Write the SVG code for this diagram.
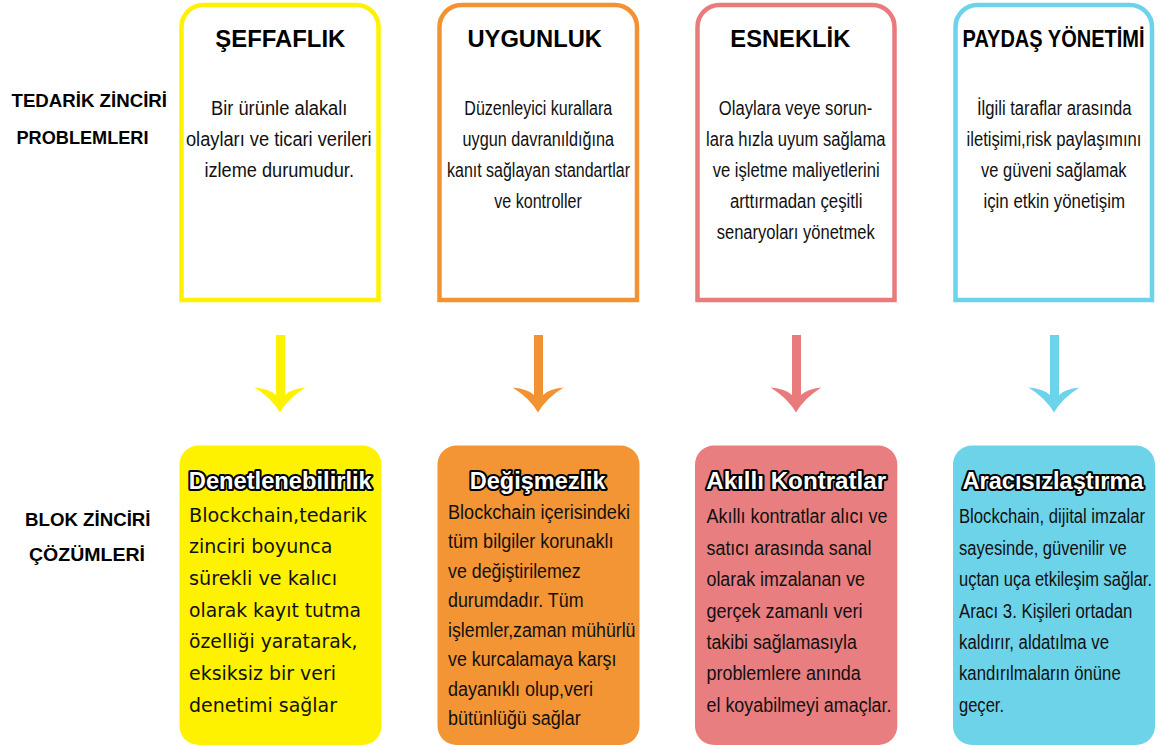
<svg xmlns="http://www.w3.org/2000/svg" width="1162" height="749" viewBox="0 0 1162 749">
<defs>
<style>
.lbl{font-family:"Liberation Sans",Arial,sans-serif;font-weight:bold;font-size:19px;fill:#000}
.ttl{font-family:"Liberation Sans",Arial,sans-serif;font-weight:bold;font-size:23.5px;fill:#000;text-anchor:middle}
.tb{font-family:"Liberation Sans",Arial,sans-serif;font-size:19.5px;fill:#111;text-anchor:middle}
.bt{font-family:"Liberation Sans",Arial,sans-serif;font-weight:bold;font-size:23px;fill:#fff;stroke:#000;stroke-width:4px;stroke-linejoin:round;paint-order:stroke;text-anchor:middle}
.yb{font-family:"DejaVu Sans",Verdana,sans-serif;font-size:19.5px;fill:#111}
.nb{font-family:"Liberation Sans",Arial,sans-serif;font-size:20px;fill:#111}
.frame{fill:#fff;stroke-width:4.5}
</style>
<path id="arr" d="M-26,387.5 Q-10,389 -4.5,395 L-4.5,335 L4.5,335 L4.5,395 Q10,389 25,387.5 Q8,398 -0.5,412.5 Q-9,398 -26,387.5 Z"/>
</defs>
<rect width="1162" height="749" fill="#fff"/>

<g id="left-labels">
<text class="lbl" x="11.5" y="107.3" textLength="155.5" lengthAdjust="spacingAndGlyphs">TEDARİK ZİNCİRİ</text>
<text class="lbl" x="16.5" y="144" textLength="132" lengthAdjust="spacingAndGlyphs">PROBLEMLERI</text>
<text class="lbl" x="25" y="526" textLength="125.5" lengthAdjust="spacingAndGlyphs">BLOK ZİNCİRİ</text>
<text class="lbl" x="29" y="560.5" textLength="116" lengthAdjust="spacingAndGlyphs">ÇÖZÜMLERİ</text>
</g>

<g id="p1">
<path class="frame" stroke="#FFF200" d="M181.5,300 L181.5,27 A22,22 0 0 1 203.5,5 L356.5,5 A22,22 0 0 1 378.5,27 L378.5,300 Z"/>
<text class="ttl" x="280.3" y="46.7" textLength="130" lengthAdjust="spacingAndGlyphs">ŞEFFAFLIK</text>
<text class="tb" x="279.2" y="114.5" textLength="136.5" lengthAdjust="spacingAndGlyphs">Bir ürünle alakalı</text>
<text class="tb" x="278.7" y="145.7" textLength="185.5" lengthAdjust="spacingAndGlyphs">olayları ve ticari verileri</text>
<text class="tb" x="279.2" y="176.9" textLength="149.5" lengthAdjust="spacingAndGlyphs">izleme durumudur.</text>
</g>

<g id="p2">
<path class="frame" stroke="#F39233" d="M439.5,300 L439.5,27 A22,22 0 0 1 461.5,5 L615,5 A22,22 0 0 1 637,27 L637,300 Z"/>
<text class="ttl" x="534.7" y="46.7" textLength="134.5" lengthAdjust="spacingAndGlyphs">UYGUNLUK</text>
<text class="tb" x="538.3" y="114.5" textLength="148" lengthAdjust="spacingAndGlyphs">Düzenleyici kurallara</text>
<text class="tb" x="538.3" y="145.7" textLength="151.5" lengthAdjust="spacingAndGlyphs">uygun davranıldığına</text>
<text class="tb" x="538.5" y="176.9" textLength="183" lengthAdjust="spacingAndGlyphs">kanıt sağlayan standartlar</text>
<text class="tb" x="538" y="208.1" textLength="87.5" lengthAdjust="spacingAndGlyphs">ve kontroller</text>
</g>

<g id="p3">
<path class="frame" stroke="#E97B7D" d="M697.5,300 L697.5,27 A22,22 0 0 1 719.5,5 L872.5,5 A22,22 0 0 1 894.5,27 L894.5,300 Z"/>
<text class="ttl" x="790.3" y="46.7" textLength="120" lengthAdjust="spacingAndGlyphs">ESNEKLİK</text>
<text class="tb" x="795.5" y="114.5" textLength="153.5" lengthAdjust="spacingAndGlyphs">Olaylara veye sorun-</text>
<text class="tb" x="795.8" y="145.7" textLength="179.5" lengthAdjust="spacingAndGlyphs">lara hızla uyum sağlama</text>
<text class="tb" x="796.2" y="176.9" textLength="167" lengthAdjust="spacingAndGlyphs">ve işletme maliyetlerini</text>
<text class="tb" x="796.2" y="208.1" textLength="132.5" lengthAdjust="spacingAndGlyphs">arttırmadan çeşitli</text>
<text class="tb" x="795.7" y="239.3" textLength="158" lengthAdjust="spacingAndGlyphs">senaryoları yönetmek</text>
</g>

<g id="p4">
<path class="frame" stroke="#6DD3EA" d="M955.5,300 L955.5,27 A22,22 0 0 1 977.5,5 L1130,5 A22,22 0 0 1 1152,27 L1152,300 Z"/>
<text class="ttl" x="1053.6" y="46.7" font-size="18.5" textLength="182" lengthAdjust="spacingAndGlyphs">PAYDAŞ YÖNETİMİ</text>
<text class="tb" x="1054.2" y="114.5" textLength="154.5" lengthAdjust="spacingAndGlyphs">İlgili taraflar arasında</text>
<text class="tb" x="1054" y="145.7" textLength="175" lengthAdjust="spacingAndGlyphs">iletişimi,risk paylaşımını</text>
<text class="tb" x="1053.8" y="176.9" textLength="145.5" lengthAdjust="spacingAndGlyphs">ve güveni sağlamak</text>
<text class="tb" x="1054.2" y="208.1" textLength="141.5" lengthAdjust="spacingAndGlyphs">için etkin yönetişim</text>
</g>

<g id="connectors">
<use href="#arr" x="280.5" fill="#FFF200"/>
<use href="#arr" x="538.5" fill="#F39233"/>
<use href="#arr" x="796.5" fill="#E97B7D"/>
<use href="#arr" x="1054.5" fill="#6DD3EA"/>
</g>

<g id="s1">
<rect x="179.5" y="445.5" width="202" height="299.5" rx="19" fill="#FFF200"/>
<text class="bt" x="280.3" y="489" textLength="183" lengthAdjust="spacingAndGlyphs">Denetlenebilirlik</text>
<text class="yb" x="189" y="521.7" textLength="178" lengthAdjust="spacingAndGlyphs">Blockchain,tedarik</text>
<text class="yb" x="189" y="553.3" textLength="143.5" lengthAdjust="spacingAndGlyphs">zinciri boyunca</text>
<text class="yb" x="189" y="585" textLength="148" lengthAdjust="spacingAndGlyphs">sürekli ve kalıcı</text>
<text class="yb" x="189" y="616.7" textLength="172" lengthAdjust="spacingAndGlyphs">olarak kayıt tutma</text>
<text class="yb" x="189" y="648.3" textLength="168.5" lengthAdjust="spacingAndGlyphs">özelliği yaratarak,</text>
<text class="yb" x="189" y="680" textLength="147" lengthAdjust="spacingAndGlyphs">eksiksiz bir veri</text>
<text class="yb" x="189" y="711.7" textLength="148" lengthAdjust="spacingAndGlyphs">denetimi sağlar</text>
</g>

<g id="s2">
<rect x="437.5" y="445.5" width="202" height="299.5" rx="19" fill="#F39535"/>
<text class="bt" x="537.7" y="489" textLength="136" lengthAdjust="spacingAndGlyphs">Değişmezlik</text>
<text class="nb" x="448" y="519" font-size="19.5" textLength="182" lengthAdjust="spacingAndGlyphs">Blockchain içerisindeki</text>
<text class="nb" x="448" y="548.4" font-size="19.5" textLength="165.5" lengthAdjust="spacingAndGlyphs">tüm bilgiler korunaklı</text>
<text class="nb" x="448" y="577.9" font-size="19.5" textLength="132.7" lengthAdjust="spacingAndGlyphs">ve değiştirilemez</text>
<text class="nb" x="448" y="607.3" font-size="19.5" textLength="135.5" lengthAdjust="spacingAndGlyphs">durumdadır. Tüm</text>
<text class="nb" x="448" y="636.7" font-size="19.5" textLength="187.5" lengthAdjust="spacingAndGlyphs">işlemler,zaman mühürlü</text>
<text class="nb" x="448" y="666.2" font-size="19.5" textLength="168.5" lengthAdjust="spacingAndGlyphs">ve kurcalamaya karşı</text>
<text class="nb" x="448" y="695.6" font-size="19.5" textLength="145" lengthAdjust="spacingAndGlyphs">dayanıklı olup,veri</text>
<text class="nb" x="448" y="725" font-size="19.5" textLength="132.7" lengthAdjust="spacingAndGlyphs">bütünlüğü sağlar</text>
</g>

<g id="s3">
<rect x="695" y="445.5" width="202.3" height="299.5" rx="19" fill="#E87E7F"/>
<text class="bt" x="796.2" y="489" textLength="180" lengthAdjust="spacingAndGlyphs">Akıllı Kontratlar</text>
<text class="nb" x="706.5" y="523.3" textLength="181" lengthAdjust="spacingAndGlyphs">Akıllı kontratlar alıcı ve</text>
<text class="nb" x="706.5" y="554.7" textLength="165" lengthAdjust="spacingAndGlyphs">satıcı arasında sanal</text>
<text class="nb" x="706.5" y="586.1" textLength="158.5" lengthAdjust="spacingAndGlyphs">olarak imzalanan ve</text>
<text class="nb" x="706.5" y="617.5" textLength="156" lengthAdjust="spacingAndGlyphs">gerçek zamanlı veri</text>
<text class="nb" x="706.5" y="648.9" textLength="150.3" lengthAdjust="spacingAndGlyphs">takibi sağlamasıyla</text>
<text class="nb" x="706.5" y="680.3" textLength="154.3" lengthAdjust="spacingAndGlyphs">problemlere anında</text>
<text class="nb" x="706.5" y="711.7" textLength="185" lengthAdjust="spacingAndGlyphs">el koyabilmeyi amaçlar.</text>
</g>

<g id="s4">
<rect x="953" y="445.5" width="202" height="299.5" rx="19" fill="#6DD3E9"/>
<text class="bt" x="1053" y="489" textLength="181" lengthAdjust="spacingAndGlyphs">Aracısızlaştırma</text>
<text class="nb" x="959" y="523.3" textLength="186" lengthAdjust="spacingAndGlyphs">Blockchain, dijital imzalar</text>
<text class="nb" x="959" y="554.7" textLength="167.7" lengthAdjust="spacingAndGlyphs">sayesinde, güvenilir ve</text>
<text class="nb" x="959" y="586.1" textLength="193" lengthAdjust="spacingAndGlyphs">uçtan uça etkileşim sağlar.</text>
<text class="nb" x="959" y="617.5" textLength="173.4" lengthAdjust="spacingAndGlyphs">Aracı 3. Kişileri ortadan</text>
<text class="nb" x="959" y="648.9" textLength="150" lengthAdjust="spacingAndGlyphs">kaldırır, aldatılma ve</text>
<text class="nb" x="959" y="680.3" textLength="161.7" lengthAdjust="spacingAndGlyphs">kandırılmaların önüne</text>
<text class="nb" x="959" y="711.7" textLength="45" lengthAdjust="spacingAndGlyphs">geçer.</text>
</g>
</svg>
